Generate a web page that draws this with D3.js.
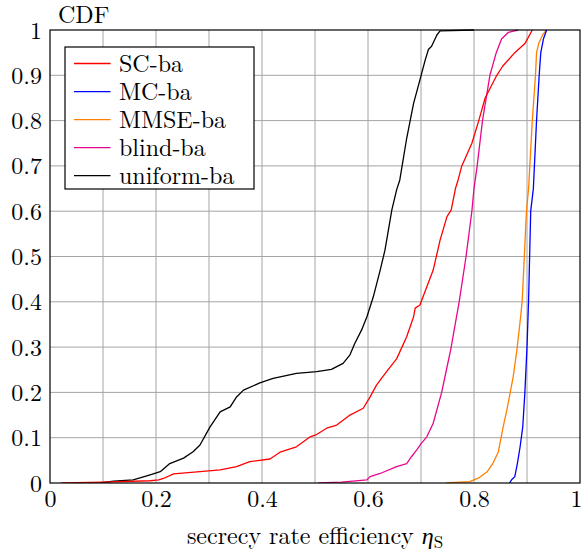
<!DOCTYPE html>
<html>
<head>
<meta charset="utf-8">
<script src="https://cdn.jsdelivr.net/npm/d3@7"></script>
</head>
<body style="margin:0;background:#fff">
<svg id="chart" width="583" height="560"></svg>
<script>
// ---- data ----
const xTicks = [0, 0.2, 0.4, 0.6, 0.8, 1];
const xTickLabels = ["0", "0.2", "0.4", "0.6", "0.8", "1"];
const yTicks = [0, 0.1, 0.2, 0.3, 0.4, 0.5, 0.6, 0.7, 0.8, 0.9, 1];
const yTickLabels = ["0", "0.1", "0.2", "0.3", "0.4", "0.5", "0.6", "0.7", "0.8", "0.9", "1"];
const gridValues = [0.1, 0.2, 0.3, 0.4, 0.5, 0.6, 0.7, 0.8, 0.9];

const seriesNames = ["SC-ba", "MC-ba", "MMSE-ba", "blind-ba", "uniform-ba"];
const seriesColors = ["#ff0000", "#0000ff", "#ff8000", "#e8078c", "#000000"];

const scBa = [[0.022,0],[0.1,0.002],[0.189,0.005],[0.205,0.007],[0.214,0.01],[0.233,0.02],[0.283,0.025],
  [0.321,0.029],[0.352,0.036],[0.377,0.047],[0.415,0.053],[0.434,0.068],[0.465,0.08],[0.491,0.102],
  [0.503,0.107],[0.522,0.121],[0.541,0.128],[0.566,0.15],[0.591,0.165],[0.604,0.19],[0.616,0.216],
  [0.635,0.246],[0.654,0.274],[0.673,0.323],[0.686,0.367],[0.689,0.386],[0.698,0.393],[0.711,0.433],
  [0.723,0.47],[0.736,0.536],[0.749,0.588],[0.757,0.603],[0.765,0.65],[0.77,0.669],[0.777,0.7],
  [0.796,0.75],[0.809,0.8],[0.821,0.85],[0.843,0.9],[0.854,0.92],[0.877,0.95],[0.896,0.97],[0.91,1]];

const mcBa = [[0.867,0],[0.871,0.007],[0.877,0.014],[0.882,0.044],[0.887,0.08],[0.892,0.124],[0.896,0.2],
  [0.9,0.3],[0.903,0.404],[0.907,0.6],[0.912,0.65],[0.918,0.8],[0.923,0.9],[0.926,0.95],[0.931,0.98],[0.937,1]];

const mmseBa = [[0.747,0],[0.792,0.003],[0.81,0.012],[0.825,0.025],[0.836,0.044],[0.846,0.069],[0.855,0.124],
  [0.862,0.161],[0.868,0.198],[0.874,0.235],[0.881,0.294],[0.888,0.367],[0.891,0.404],[0.899,0.6],
  [0.903,0.65],[0.91,0.8],[0.916,0.9],[0.918,0.95],[0.922,0.97],[0.93,0.99],[0.937,1]];

const blindBa = [[0.506,0],[0.55,0.002],[0.598,0.007],[0.604,0.014],[0.623,0.021],[0.654,0.036],[0.673,0.043],
  [0.682,0.058],[0.692,0.073],[0.701,0.088],[0.711,0.102],[0.723,0.132],[0.739,0.2],[0.748,0.25],
  [0.756,0.294],[0.772,0.4],[0.785,0.5],[0.796,0.6],[0.8,0.65],[0.806,0.7],[0.816,0.8],[0.83,0.9],
  [0.842,0.95],[0.852,0.98],[0.865,0.995],[0.883,1]];

const uniformBa = [[0.094,0],[0.12,0.004],[0.157,0.007],[0.189,0.018],[0.208,0.025],[0.226,0.043],[0.252,0.055],
  [0.27,0.069],[0.283,0.084],[0.302,0.124],[0.321,0.157],[0.34,0.168],[0.352,0.19],[0.365,0.205],
  [0.396,0.221],[0.421,0.231],[0.465,0.242],[0.503,0.246],[0.531,0.251],[0.553,0.264],[0.566,0.283],
  [0.575,0.308],[0.588,0.338],[0.598,0.367],[0.61,0.411],[0.623,0.47],[0.632,0.514],[0.645,0.603],
  [0.654,0.647],[0.66,0.669],[0.673,0.761],[0.686,0.838],[0.698,0.89],[0.708,0.934],[0.714,0.957],
  [0.72,0.964],[0.73,0.989],[0.736,0.998],[0.8,1]];

const seriesData = [scBa, mcBa, mmseBa, blindBa, uniformBa];
const drawOrder = [4, 3, 0, 2, 1];

(function () {
  const svg = d3.select("#chart");
  const pL = 50, pR = 580, pT = 30, pB = 483;
  const x = d3.scaleLinear().domain([0, 1]).range([pL, pR]);
  const y = d3.scaleLinear().domain([0, 1]).range([pB, pT]);
  const fs = 24;
  const ff = "Latin Modern Roman";

  // grid
  const g = svg.append("g");
  g.selectAll("line.gx").data(gridValues).join("line").attr("class", "gx")
    .attr("x1", d => x(d)).attr("x2", d => x(d))
    .attr("y1", pB).attr("y2", pT)
    .attr("stroke", "#a4a4a4").attr("stroke-width", 1);
  g.selectAll("line.gy").data(gridValues).join("line").attr("class", "gy")
    .attr("y1", d => y(d)).attr("y2", d => y(d))
    .attr("x1", pL).attr("x2", pR)
    .attr("stroke", "#a4a4a4").attr("stroke-width", 1);

  // curves
  svg.append("clipPath").attr("id", "clip").append("rect")
    .attr("x", pL).attr("y", pT - 1).attr("width", pR - pL).attr("height", pB - pT + 1);
  const line = d3.line().x(d => x(d[0])).y(d => y(d[1]));
  const curves = svg.append("g").attr("clip-path", "url(#clip)");
  drawOrder.forEach(i => {
    curves.append("path").datum(seriesData[i])
      .attr("d", line).attr("fill", "none")
      .attr("stroke", seriesColors[i]).attr("stroke-width", 1.3)
      .attr("stroke-linejoin", "round");
  });

  // frame
  svg.append("rect").attr("x", pL).attr("y", pT)
    .attr("width", pR - pL).attr("height", pB - pT)
    .attr("fill", "none").attr("stroke", "#000").attr("stroke-width", 1.2);

  // axes (labels only)
  const xAxis = d3.axisBottom(x).tickValues(xTicks).tickSize(0)
    .tickFormat((d, i) => xTickLabels[i]);
  const xg = svg.append("g").attr("transform", `translate(0,${pB})`).call(xAxis)
    .attr("font-family", ff).attr("font-size", fs);
  xg.select(".domain").remove();
  xg.selectAll("text").attr("dy", null).attr("y", 24)
    .attr("font-family", ff).attr("font-size", fs).attr("fill", "#000");
  xg.selectAll("text").filter((d, i) => i === xTicks.length - 1)
    .attr("text-anchor", "end").attr("x", 582 - x(1));

  const yAxis = d3.axisLeft(y).tickValues(yTicks).tickSize(0)
    .tickFormat((d, i) => yTickLabels[i]);
  const yg = svg.append("g").attr("transform", `translate(${pL},0)`).call(yAxis)
    .attr("font-family", ff).attr("font-size", fs);
  yg.select(".domain").remove();
  yg.selectAll("text").attr("dy", null).attr("x", -8).attr("y", 8)
    .attr("font-family", ff).attr("font-size", fs).attr("fill", "#000");

  // CDF label
  svg.append("text").attr("x", 58).attr("y", 23)
    .attr("font-family", ff).attr("font-size", fs).text("CDF");

  // x label
  const xl = svg.append("text").attr("x", 315).attr("y", 543.5)
    .attr("font-family", ff).attr("font-size", fs).attr("text-anchor", "middle");
  xl.append("tspan").text("secrecy rate efficiency ");
  xl.append("tspan").attr("font-style", "italic").attr("font-family", "Liberation Serif")
    .attr("font-size", 24).text("η");
  xl.append("tspan").attr("font-size", 17).attr("dy", 4).text("S");

  // legend
  const lg = svg.append("g");
  lg.append("rect").attr("x", 65).attr("y", 47).attr("width", 189).attr("height", 142)
    .attr("fill", "#fff").attr("stroke", "#000").attr("stroke-width", 1.2);
  const legendY = d3.scaleLinear().domain([0, 4]).range([63.5, 175.7]);
  seriesNames.forEach((name, i) => {
    lg.append("line").attr("x1", 74).attr("x2", 110.5)
      .attr("y1", legendY(i)).attr("y2", legendY(i))
      .attr("stroke", seriesColors[i]).attr("stroke-width", 1.3);
    lg.append("text").attr("x", 119).attr("y", legendY(i) + 8)
      .attr("font-family", ff).attr("font-size", fs).text(name);
  });
})();
</script>
</body>
</html>
